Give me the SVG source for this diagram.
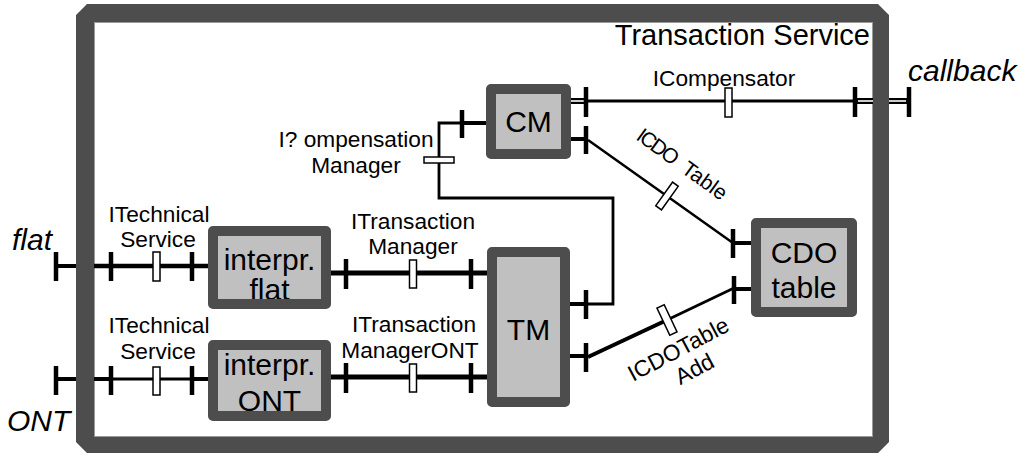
<svg xmlns="http://www.w3.org/2000/svg" width="1021" height="454" viewBox="0 0 1021 454">
<style>
.frame{fill:#4d4d4d;fill-rule:evenodd}
.fedge{fill:none;stroke:#9a9a9a;stroke-width:1}
.fill{fill:#c0c0c0}
.bd{fill:none;stroke:#4d4d4d;stroke-width:10;stroke-linejoin:round}
text{font-family:"Liberation Sans",Arial,Helvetica,sans-serif;fill:#000}
.s{font-size:22.7px}
.b{font-size:30px}
.it{font-style:italic}
.m{text-anchor:middle}
.ln{stroke:#000;fill:none}
.bar{stroke:#000;stroke-width:4.5}
.cap{fill:#fff;stroke:#000;stroke-width:1.5}
.dbl{stroke:#000;stroke-width:6}
.dblw{stroke:#fff;stroke-width:1.6}
</style>
<g id="frame">
<path class="frame" d="M87 4H878L889 15V442L878 453H87L76 442V15Z M94 22V437H873V22Z"/>
<rect class="fedge" x="94.5" y="22.5" width="778" height="414"/>
<text class="b" x="870" y="45" text-anchor="end" style="font-size:29px">Transaction Service</text>
</g>
<g id="connectors">
<!-- flat row -->
<line class="ln" x1="56" y1="266" x2="76" y2="266" stroke-width="4"/>
<line class="bar" x1="56" y1="252" x2="56" y2="281"/>
<line class="ln" x1="94" y1="266" x2="208" y2="266" stroke-width="4.5"/>
<line class="bar" x1="111" y1="252" x2="111" y2="281"/>
<line class="bar" x1="192" y1="252" x2="192" y2="281"/>
<rect class="cap" x="153" y="252" width="7" height="29"/>
<!-- ONT row -->
<line class="ln" x1="56" y1="379" x2="76" y2="379" stroke-width="4"/>
<line class="bar" x1="56" y1="366" x2="56" y2="395"/>
<line class="ln" x1="94" y1="379" x2="111" y2="379" stroke-width="4"/>
<line class="ln" x1="111" y1="379" x2="192" y2="379" stroke-width="3"/>
<line class="ln" x1="192" y1="379" x2="208" y2="379" stroke-width="4"/>
<line class="bar" x1="111" y1="366" x2="111" y2="395"/>
<line class="bar" x1="192" y1="366" x2="192" y2="395"/>
<rect class="cap" x="153" y="367" width="7" height="28"/>
<!-- ITransactionManager -->
<line class="ln" x1="331" y1="273" x2="487" y2="273" stroke-width="5"/>
<line class="bar" x1="346" y1="259" x2="346" y2="289"/>
<line class="bar" x1="471" y1="259" x2="471" y2="289"/>
<rect class="cap" x="409.5" y="260" width="7" height="28"/>
<!-- ITransactionManagerONT -->
<line class="ln" x1="331" y1="377" x2="487" y2="377" stroke-width="5"/>
<line class="bar" x1="346" y1="363" x2="346" y2="393"/>
<line class="bar" x1="471" y1="363" x2="471" y2="393"/>
<rect class="cap" x="409.5" y="364" width="7" height="28"/>
<!-- ICompensator -->
<line class="dbl" x1="571" y1="101" x2="586" y2="101"/>
<line class="dblw" x1="571" y1="101" x2="584" y2="101"/>
<line class="ln" x1="586" y1="101" x2="855" y2="101" stroke-width="3"/>
<line class="bar" x1="586" y1="87" x2="586" y2="117"/>
<line class="bar" x1="855" y1="87" x2="855" y2="117"/>
<rect class="cap" x="725" y="88" width="7" height="29"/>
<line class="dbl" x1="855" y1="101" x2="873" y2="101"/>
<line class="dblw" x1="858" y1="101" x2="873" y2="101"/>
<line class="dbl" x1="889" y1="101" x2="909" y2="101"/>
<line class="dblw" x1="889" y1="101" x2="906" y2="101"/>
<line class="bar" x1="909" y1="87" x2="909" y2="117"/>
<!-- ICDO Table -->
<line class="ln" x1="571" y1="139" x2="586" y2="139" stroke-width="4"/>
<line class="bar" x1="586" y1="126" x2="586" y2="154"/>
<line class="ln" x1="588" y1="140" x2="733" y2="243" stroke-width="2.5"/>
<line class="bar" x1="733" y1="229" x2="733" y2="258"/>
<line class="ln" x1="733" y1="243" x2="751" y2="243" stroke-width="4"/>
<rect class="cap" x="-3.5" y="-14.5" width="7" height="29" transform="translate(667 196) rotate(35.4)"/>
<!-- ICompensationManager -->
<line class="ln" x1="570" y1="304" x2="586" y2="304" stroke-width="4"/>
<line class="bar" x1="586" y1="290" x2="586" y2="319"/>
<polyline class="ln" points="586,304 613,304 613,198 439,198 439,123 462,123" stroke-width="2.8"/>
<line class="bar" x1="462" y1="110" x2="462" y2="138"/>
<line class="ln" x1="462" y1="123" x2="486" y2="123" stroke-width="4"/>
<rect class="cap" x="424" y="157" width="30" height="6"/>
<!-- ICDOTable Add -->
<line class="ln" x1="570" y1="356" x2="586" y2="356" stroke-width="4"/>
<line class="bar" x1="586" y1="343" x2="586" y2="372"/>
<line class="ln" x1="588" y1="357" x2="667" y2="320" stroke-width="4"/>
<line class="ln" x1="667" y1="320" x2="734" y2="288" stroke-width="2.8"/>
<line class="bar" x1="734" y1="276" x2="734" y2="304"/>
<line class="ln" x1="734" y1="289" x2="751" y2="289" stroke-width="4"/>
<rect class="cap" x="-4" y="-15" width="8" height="30" transform="translate(667 320) rotate(-25.3)"/>
<!-- labels -->
<text class="b it" x="908" y="81">callback</text>
<text class="b it" x="12" y="250">flat</text>
<text class="b it" x="7" y="431">ONT</text>
<text class="s m" x="159" y="222">ITechnical</text>
<text class="s m" x="158" y="247">Service</text>
<text class="s m" x="159" y="333">ITechnical</text>
<text class="s m" x="158" y="359">Service</text>
<text class="s m" x="413" y="229">ITransaction</text>
<text class="s m" x="413" y="254">Manager</text>
<text class="s m" x="414" y="332">ITransaction</text>
<text class="s m" x="410" y="358">ManagerONT</text>
<text class="s m" x="724" y="86">ICompensator</text>
<text class="s m" x="356" y="147">I? ompensation</text>
<text class="s m" x="356" y="173">Manager</text>
<g transform="translate(678 170) rotate(36)"><text class="s m" x="0" y="0" style="font-size:21px" word-spacing="6"><tspan letter-spacing="-2">ICDO</tspan> Table</text></g>
<g transform="translate(682 356) rotate(-28)"><text class="s m" x="0" y="0">ICDOTable</text><text class="s m" x="5" y="25">Add</text></g>
</g>
<g id="CM">
<rect class="fill" x="491" y="89" width="75" height="65"/>
<text class="b m" x="528.5" y="132">CM</text>
<rect class="bd" x="491" y="89" width="75" height="65"/>
</g>
<g id="TM">
<rect class="fill" x="492" y="252" width="73" height="150"/>
<text class="b m" x="528.5" y="340">TM</text>
<rect class="bd" x="492" y="252" width="73" height="150"/>
</g>
<g id="interpr-flat">
<rect class="fill" x="213" y="231" width="113" height="73"/>
<text class="b m" x="269.5" y="270">interpr.</text>
<text class="b m" x="269.5" y="300">flat</text>
<rect class="bd" x="213" y="231" width="113" height="73"/>
</g>
<g id="interpr-ONT">
<rect class="fill" x="213" y="345" width="113" height="71"/>
<text class="b m" x="269.5" y="375">interpr.</text>
<text class="b m" x="269.5" y="411">ONT</text>
<rect class="bd" x="213" y="345" width="113" height="71"/>
</g>
<g id="CDO-table">
<rect class="fill" x="756" y="223" width="96" height="89"/>
<text class="b m" x="804" y="263">CDO</text>
<text class="b m" x="804" y="298">table</text>
<rect class="bd" x="756" y="223" width="96" height="89"/>
</g>
</svg>
